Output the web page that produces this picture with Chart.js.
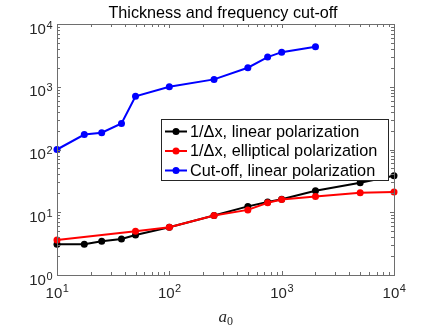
<!DOCTYPE html>
<html>
<head>
<meta charset="utf-8">
<script src="https://cdn.jsdelivr.net/npm/chart.js@4"></script>
<style>
  body { margin:0; background:#fff; }
  canvas { display:block; }
</style>
</head>
<body>
<canvas id="chart" width="436" height="327"></canvas>
<script>
// data
const aLinear = [10, 17.5, 25, 37.5, 50, 100, 250, 500, 750, 1000, 2000, 5000, 10000];
const invDxLinear = [3.1, 3.1, 3.45, 3.75, 4.35, 5.75, 8.9, 12.4, 14.6, 16.1, 22, 29.6, 38.3];

const aElliptical = [10, 50, 100, 250, 500, 750, 1000, 2000, 5000, 10000];
const invDxElliptical = [3.6, 5.0, 5.75, 8.9, 10.9, 14.2, 16.0, 17.9, 20.5, 21.0];

const aCutoff = [10, 17.5, 25, 37.5, 50, 100, 250, 500, 750, 1000, 2000];
const cutoffLinear = [100, 173, 185, 260, 705, 1000, 1310, 2010, 2970, 3560, 4340];

const xDecades = [1, 2, 3, 4];      // 10^1 .. 10^4
const yDecades = [0, 1, 2, 3, 4];   // 10^0 .. 10^4

const seriesLabels = ['1/\u0394x, linear polarization', '1/\u0394x, elliptical polarization', 'Cut-off, linear polarization'];
const seriesColors = ['#000000', '#ff0000', '#0000ff'];

const toPts = (xs, ys) => xs.map((x, i) => ({x: x, y: ys[i]}));

const axisColor = '#6e6e6e';
const FONT = '"Liberation Sans", Arial, sans-serif';

function drawPow(ctx, exp, x, y, align, expRise) {
  ctx.font = '15px ' + FONT;
  const wBase = ctx.measureText('10').width;
  ctx.font = '11px ' + FONT;
  const wExp = ctx.measureText(String(exp)).width;
  const total = wBase + wExp;
  let left = x;
  if (align === 'right') left = x - total;
  else if (align === 'center') left = x - total / 2;
  ctx.textAlign = 'left';
  ctx.textBaseline = 'alphabetic';
  ctx.fillStyle = '#262626';
  ctx.font = '15px ' + FONT;
  ctx.fillText('10', left, y);
  ctx.font = '11px ' + FONT;
  ctx.fillText(String(exp), left + wBase + 0.5, y - expRise);
}

const framePlugin = {
  id: 'frame',
  afterDraw(chart) {
    const ctx = chart.ctx;
    const a = chart.chartArea;
    const xs = chart.scales.x, ys = chart.scales.y;
    ctx.save();

    // box
    ctx.strokeStyle = axisColor;
    ctx.lineWidth = 1;
    ctx.strokeRect(Math.round(a.left) + 0.5, Math.round(a.top) + 0.5,
                   Math.round(a.right - a.left), Math.round(a.bottom - a.top));

    // ticks (inward, all four sides)
    ctx.beginPath();
    for (let d = xDecades[0]; d <= xDecades[xDecades.length - 1]; d++) {
      for (let m = 1; m <= 9; m++) {
        if (d === xDecades[xDecades.length - 1] && m > 1) break;
        const px = Math.round(xs.getPixelForValue(m * Math.pow(10, d))) + 0.5;
        const len = m === 1 ? 4 : 3;
        ctx.moveTo(px, a.bottom); ctx.lineTo(px, a.bottom - len);
        ctx.moveTo(px, a.top); ctx.lineTo(px, a.top + len);
      }
    }
    for (let d = yDecades[0]; d <= yDecades[yDecades.length - 1]; d++) {
      for (let m = 1; m <= 9; m++) {
        if (d === yDecades[yDecades.length - 1] && m > 1) break;
        const py = Math.round(ys.getPixelForValue(m * Math.pow(10, d))) + 0.5;
        const len = m === 1 ? 4 : 3;
        ctx.moveTo(a.left, py); ctx.lineTo(a.left + len, py);
        ctx.moveTo(a.right, py); ctx.lineTo(a.right - len, py);
      }
    }
    ctx.stroke();

    // tick labels
    xDecades.forEach(d => {
      drawPow(ctx, d, xs.getPixelForValue(Math.pow(10, d)), a.bottom + 23, 'center', 6.5);
    });
    yDecades.forEach(d => {
      drawPow(ctx, d, a.left - 5, ys.getPixelForValue(Math.pow(10, d)) + 9.5, 'right', 5);
    });

    // title
    ctx.fillStyle = '#000';
    ctx.font = '16.2px ' + FONT;
    ctx.textAlign = 'center';
    ctx.textBaseline = 'alphabetic';
    ctx.fillText('Thickness and frequency cut-off', 223, 18);

    // x axis label a_0
    const cx = (a.left + a.right) / 2;
    ctx.font = 'italic 17px "Liberation Serif", "Times New Roman", serif';
    ctx.textAlign = 'left';
    ctx.fillStyle = '#262626';
    ctx.fillText('a', cx - 7, 322);
    const wa = ctx.measureText('a').width;
    ctx.font = '12px "Liberation Serif", "Times New Roman", serif';
    ctx.fillText('0', cx - 7 + wa, 325);

    // legend
    const lx = 161.5, ly = 119.5, lw = 227, lh = 61;
    ctx.fillStyle = '#fff';
    ctx.fillRect(lx, ly, lw, lh);
    ctx.strokeStyle = '#262626';
    ctx.lineWidth = 1;
    ctx.strokeRect(lx, ly, lw, lh);
    ctx.font = '16.3px ' + FONT;
    ctx.textBaseline = 'middle';
    seriesLabels.forEach((lab, i) => {
      const y = 131.5 + i * 19.5;
      ctx.strokeStyle = seriesColors[i];
      ctx.lineWidth = 2;
      ctx.beginPath();
      ctx.moveTo(165, y); ctx.lineTo(187, y);
      ctx.stroke();
      ctx.fillStyle = seriesColors[i];
      ctx.beginPath();
      ctx.arc(176, y, 3.5, 0, Math.PI * 2);
      ctx.fill();
      ctx.fillStyle = '#000';
      ctx.fillText(lab, 190, y + 1);
    });
    ctx.restore();
  }
};

const mkSet = (i, pts, order) => ({
  label: seriesLabels[i],
  data: pts,
  borderColor: seriesColors[i],
  backgroundColor: seriesColors[i],
  borderWidth: 2,
  pointRadius: 3.5,
  pointBorderWidth: 0,
  showLine: true,
  tension: 0,
  clip: false,
  order: order
});

new Chart(document.getElementById('chart').getContext('2d'), {
  type: 'scatter',
  data: {
    datasets: [
      mkSet(0, toPts(aLinear, invDxLinear), 3),
      mkSet(1, toPts(aElliptical, invDxElliptical), 2),
      mkSet(2, toPts(aCutoff, cutoffLinear), 1)
    ]
  },
  options: {
    responsive: false,
    animation: false,
    layout: { padding: { left: 57, right: 42, top: 24, bottom: 52 } },
    plugins: { legend: { display: false }, tooltip: { enabled: false }, title: { display: false } },
    scales: {
      x: { type: 'logarithmic', min: 10, max: 10000, display: false },
      y: { type: 'logarithmic', min: 1, max: 10000, display: false }
    }
  },
  plugins: [framePlugin]
});
</script>
</body>
</html>
